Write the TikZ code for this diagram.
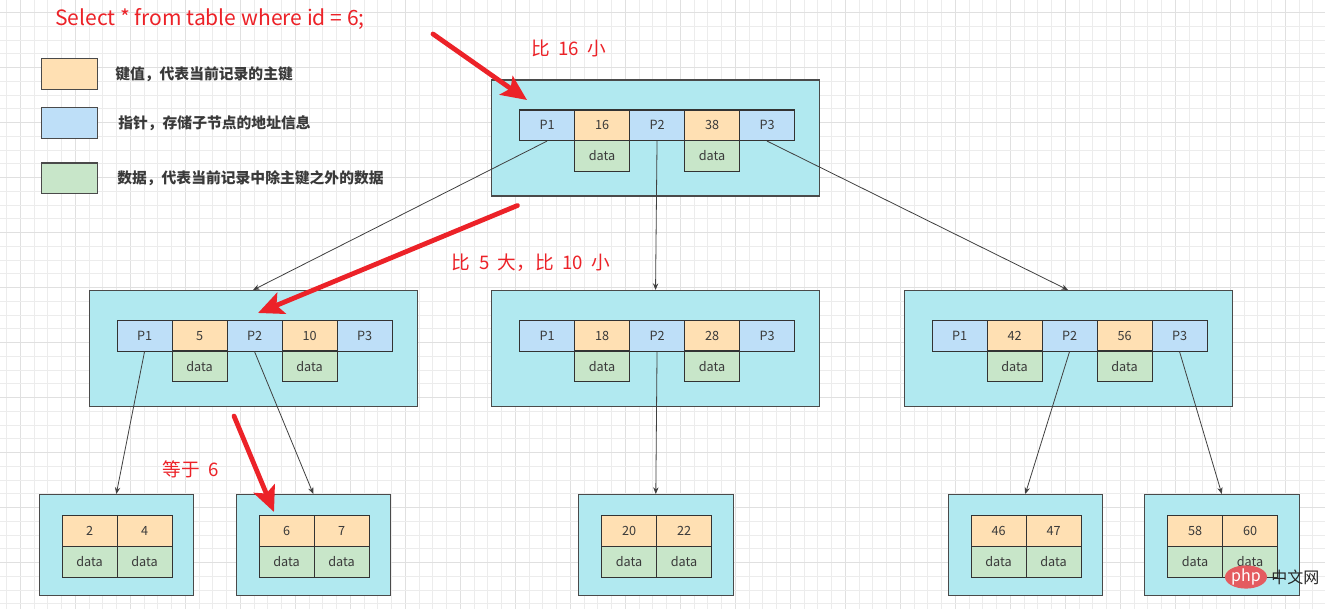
\documentclass[tikz,border=0pt]{standalone}
\usepackage{fontspec}
\setmainfont{Noto Sans CJK SC}
\usetikzlibrary{arrows.meta,shapes.geometric}
\definecolor{gridminor}{HTML}{ECECEC}
\definecolor{gridmajor}{HTML}{E0E0E0}
\definecolor{nodecyan}{HTML}{B1E9F0}
\definecolor{keyorange}{HTML}{FFE0B3}
\definecolor{ptrblue}{HTML}{BEDFF8}
\definecolor{datgreen}{HTML}{C8E6C9}
\definecolor{strokegray}{HTML}{4A4A4A}
\definecolor{txtgray}{HTML}{3A3A3A}
\definecolor{redmark}{HTML}{EC2228}
\definecolor{phpred}{HTML}{E45B60}
\tikzset{
  outerbox/.style={draw=strokegray, fill=nodecyan, line width=0.8pt, anchor=north west, inner sep=0pt},
  cellbase/.style={draw=black!80, line width=0.8pt, anchor=north west, minimum width=41.25pt, minimum height=22.9pt, inner sep=0pt, text=txtgray, font=\fontsize{9.5pt}{11pt}\selectfont},
  ptrcell/.style={cellbase, fill=ptrblue},
  keycell/.style={cellbase, fill=keyorange},
  datcell/.style={cellbase, fill=datgreen},
  link/.style={draw=black!75, line width=0.6pt, -{Stealth[length=5pt,width=4pt]}},
  redarrow/.style={draw=redmark, line width=3.6pt, line cap=round, -{Stealth[length=19pt,width=17pt,inset=4pt]}},
  redlabel/.style={text=redmark, font=\fontsize{14pt}{16pt}\selectfont, inner sep=0pt},
  legendbox/.style={draw=strokegray, line width=0.8pt, anchor=north west, minimum width=42pt, minimum height=22.9pt, inner sep=0pt},
  legendtext/.style={text=txtgray, font=\bfseries\fontsize{11.1pt}{13pt}\selectfont, anchor=west, inner sep=0pt},
}
\newcommand\wsp{\hspace{0.45em}}
\newcommand\innerbt[5]{%
  \node[outerbox, minimum width=246pt, minimum height=87pt] (#1) at (#2,#3) {};
  \node[ptrcell] (#1-p1) at (#2+28,#3+30) {P1};
  \node[keycell] (#1-k1) at (#2+83,#3+30) {#4};
  \node[ptrcell] (#1-p2) at (#2+138,#3+30) {P2};
  \node[keycell] (#1-k2) at (#2+193,#3+30) {#5};
  \node[ptrcell] (#1-p3) at (#2+248,#3+30) {P3};
  \node[datcell] (#1-d1) at (#2+83,#3+60.5) {data};
  \node[datcell] (#1-d2) at (#2+193,#3+60.5) {data};
}
\newcommand\leafbt[5]{%
  \node[outerbox, minimum width=115.9pt, minimum height=75.75pt] (#1) at (#2,#3) {};
  \node[keycell, minimum height=23.25pt] (#1-k1) at (#2+23,#3+21) {#4};
  \node[keycell, minimum height=23.25pt] (#1-k2) at (#2+78,#3+21) {#5};
  \node[datcell, minimum height=23.25pt] (#1-d1) at (#2+23,#3+52) {data};
  \node[datcell, minimum height=23.25pt] (#1-d2) at (#2+78,#3+52) {data};
}
\begin{document}
\begin{tikzpicture}[x=0.75pt,y=-0.75pt]
\useasboundingbox (0,0) rectangle (1325,609);
\fill[white] (0,0) rectangle (1325,609);
% grid
\foreach \k in {0,...,96}{
  \pgfmathsetmacro\gx{6.55+13.75*\k}
  \pgfmathtruncatemacro\gm{mod(\k,4)}
  \ifnum\gm=1
    \draw[gridmajor, line width=0.75pt] (\gx,0) -- (\gx,609);
  \else
    \draw[gridminor, line width=0.75pt] (\gx,0) -- (\gx,609);
  \fi
}
\foreach \k in {0,...,45}{
  \pgfmathsetmacro\gy{12.7+13.75*(\k-1)}
  \pgfmathtruncatemacro\gm{mod(\k,4)}
  \ifnum\gm=1
    \draw[gridmajor, line width=0.75pt] (0,\gy) -- (1325,\gy);
  \else
    \draw[gridminor, line width=0.75pt] (0,\gy) -- (1325,\gy);
  \fi
}
% title
\node[text=redmark, font=\fontsize{15.8pt}{18pt}\selectfont, anchor=west, inner sep=0pt] (title) at (55,19) {Select * from table where id = 6;};
% legend
\node[legendbox, fill=keyorange] (lgk) at (41,58) {};
\node[legendbox, fill=ptrblue] (lgp) at (41,107) {};
\node[legendbox, fill=datgreen] (lgd) at (41,162.5) {};
\node[legendtext] (lgkt) at (115,74) {键值，代表当前记录的主键};
\node[legendtext] (lgpt) at (118,123) {指针，存储子节点的地址信息};
\node[legendtext] (lgdt) at (117,178) {数据，代表当前记录中除主键之外的数据};
% tree nodes
\innerbt{top}{491}{79.5}{16}{38}
\innerbt{ml}{88.5}{290}{5}{10}
\innerbt{mc}{491}{290}{18}{28}
\innerbt{mr}{903.5}{290}{42}{56}
\leafbt{la}{38.5}{494}{2}{4}
\leafbt{lb}{235.5}{494}{6}{7}
\leafbt{lc}{578}{494}{20}{22}
\leafbt{ld}{947.5}{494}{46}{47}
\leafbt{le}{1144}{494}{58}{60}
% links
\draw[link] (top-p1.south) -- (ml.north);
\draw[link] (top-p2.south) -- (mc.north);
\draw[link] (top-p3.south) -- (mr.north);
\draw[link] (ml-p1.south) -- (la.north);
\draw[link] (ml-p2.south) -- (lb.north);
\draw[link] (mc-p2.south) -- (lc.north);
\draw[link] (mr-p2.south) -- (ld.north);
\draw[link] (mr-p3.south) -- (le.north);
% red labels
\node[redlabel] (lab1) at (569,48) {比\wsp{}16\wsp{}小};
\node[redlabel] (lab2) at (531,263) {比\wsp{}5\wsp{}大，比\wsp{}10\wsp{}小};
\node[redlabel] (lab3) at (191,469) {等于\wsp{}6};
% red arrows
\coordinate (r1s) at (433,34);
\coordinate (r1e) at (527,100);
\coordinate (r2s) at (517.5,205.5);
\coordinate (r2e) at (258,313);
\coordinate (r3s) at (234,416);
\coordinate (r3e) at (274,512);
\draw[redarrow] (r1s) -- (r1e);
\draw[redarrow] (r2s) -- (r2e);
\draw[redarrow] (r3s) -- (r3e);
% watermark
\node[ellipse, fill=phpred, minimum width=31.5pt, minimum height=15pt, inner sep=0pt, text=white, font=\itshape\fontsize{12pt}{13pt}\selectfont] (php) at (1246,577) {php};
\node[text=black!85, font=\fontsize{12pt}{13pt}\selectfont, anchor=west, inner sep=0pt] (phpcn) at (1271,577) {中文网};
\end{tikzpicture}
\end{document}
